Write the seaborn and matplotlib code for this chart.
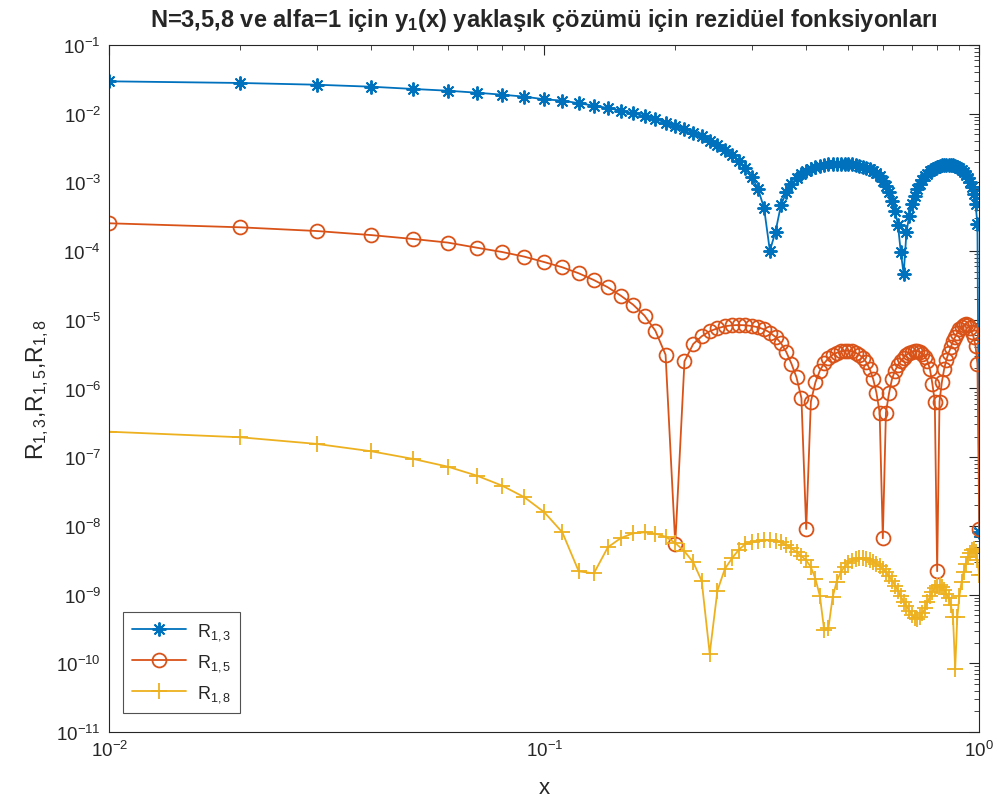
import numpy as np
import pandas as pd
import matplotlib
matplotlib.use("Agg")
import matplotlib.pyplot as plt
import matplotlib.ticker as mticker
import seaborn as sns

x = [0.01, 0.02, 0.03, 0.04, 0.05, 0.06, 0.07, 0.08, 0.09, 0.10,
     0.11, 0.12, 0.13, 0.14, 0.15, 0.16, 0.17, 0.18, 0.19, 0.20,
     0.21, 0.22, 0.23, 0.24, 0.25, 0.26, 0.27, 0.28, 0.29, 0.30,
     0.31, 0.32, 0.33, 0.34, 0.35, 0.36, 0.37, 0.38, 0.39, 0.40,
     0.41, 0.42, 0.43, 0.44, 0.45, 0.46, 0.47, 0.48, 0.49, 0.50,
     0.51, 0.52, 0.53, 0.54, 0.55, 0.56, 0.57, 0.58, 0.59, 0.60,
     0.61, 0.62, 0.63, 0.64, 0.65, 0.66, 0.67, 0.68, 0.69, 0.70,
     0.71, 0.72, 0.73, 0.74, 0.75, 0.76, 0.77, 0.78, 0.79, 0.80,
     0.81, 0.82, 0.83, 0.84, 0.85, 0.86, 0.87, 0.88, 0.89, 0.90,
     0.91, 0.92, 0.93, 0.94, 0.95, 0.96, 0.97, 0.98, 0.99, 1.00]

R13 = [2.96e-2, 2.80e-2, 2.64e-2, 2.47e-2, 2.29e-2, 2.16e-2, 2.02e-2, 1.89e-2, 1.77e-2, 1.62e-2,
       1.55e-2, 1.42e-2, 1.31e-2, 1.21e-2, 1.11e-2, 1.01e-2, 9.27e-3, 8.38e-3, 7.40e-3, 6.68e-3,
       5.98e-3, 5.28e-3, 4.69e-3, 4.05e-3, 3.50e-3, 2.99e-3, 2.48e-3, 2.03e-3, 1.60e-3, 1.21e-3,
       8.02e-4, 4.24e-4, 1.01e-4, 1.92e-4, 4.69e-4, 7.16e-4, 9.48e-4, 1.15e-3, 1.32e-3, 1.45e-3,
       1.57e-3, 1.66e-3, 1.73e-3, 1.79e-3, 1.83e-3, 1.85e-3, 1.87e-3, 1.87e-3, 1.87e-3, 1.85e-3,
       1.83e-3, 1.79e-3, 1.75e-3, 1.69e-3, 1.64e-3, 1.57e-3, 1.48e-3, 1.37e-3, 1.22e-3, 1.06e-3,
       8.95e-4, 7.16e-4, 5.42e-4, 3.88e-4, 2.40e-4, 9.59e-5, 4.65e-5, 1.87e-4, 3.28e-4, 4.85e-4,
       6.41e-4, 8.02e-4, 9.48e-4, 1.10e-3, 1.22e-3, 1.34e-3, 1.45e-3, 1.53e-3, 1.62e-3, 1.67e-3,
       1.73e-3, 1.77e-3, 1.79e-3, 1.81e-3, 1.81e-3, 1.79e-3, 1.77e-3, 1.73e-3, 1.67e-3, 1.60e-3,
       1.52e-3, 1.42e-3, 1.29e-3, 1.16e-3, 1.00e-3, 8.47e-4, 6.78e-4, 4.85e-4, 2.48e-4, 8.1e-9]

R15 = [2.54e-4, 2.22e-4, 1.96e-4, 1.71e-4, 1.50e-4, 1.33e-4, 1.12e-4, 9.70e-5, 8.30e-5, 6.92e-5,
       5.81e-5, 4.75e-5, 3.79e-5, 2.97e-5, 2.24e-5, 1.66e-5, 1.15e-5, 6.93e-6, 3.10e-6, 5.46e-9,
       2.49e-6, 4.45e-6, 5.75e-6, 6.81e-6, 7.52e-6, 8.04e-6, 8.32e-6, 8.39e-6, 8.32e-6, 8.13e-6,
       7.78e-6, 7.26e-6, 6.53e-6, 5.62e-6, 4.57e-6, 3.39e-6, 2.29e-6, 1.45e-6, 7.24e-7, 9.02e-9,
       6.46e-7, 1.23e-6, 1.82e-6, 2.34e-6, 2.75e-6, 3.09e-6, 3.31e-6, 3.47e-6, 3.55e-6, 3.55e-6,
       3.47e-6, 3.31e-6, 3.09e-6, 2.82e-6, 2.40e-6, 1.91e-6, 1.38e-6, 8.71e-7, 4.47e-7, 6.61e-9,
       4.47e-7, 8.51e-7, 1.38e-6, 1.82e-6, 2.19e-6, 2.51e-6, 2.82e-6, 3.09e-6, 3.31e-6, 3.43e-6,
       3.51e-6, 3.51e-6, 3.39e-6, 3.16e-6, 2.88e-6, 2.51e-6, 1.91e-6, 1.17e-6, 6.46e-7, 2.19e-9,
       6.46e-7, 1.23e-6, 1.91e-6, 2.63e-6, 3.31e-6, 3.98e-6, 4.90e-6, 5.62e-6, 6.46e-6, 7.24e-6,
       7.76e-6, 8.32e-6, 8.59e-6, 8.32e-6, 7.59e-6, 6.61e-6, 5.62e-6, 4.17e-6, 2.29e-6, 9.12e-9]

R18 = [2.35e-7, 1.95e-7, 1.56e-7, 1.22e-7, 9.42e-8, 7.28e-8, 5.38e-8, 3.85e-8, 2.61e-8, 1.58e-8,
       8.07e-9, 2.18e-9, 2.04e-9, 4.89e-9, 6.67e-9, 7.80e-9, 8.07e-9, 7.71e-9, 6.97e-9, 5.64e-9,
       4.27e-9, 2.95e-9, 1.59e-9, 1.38e-10, 1.14e-9, 2.36e-9, 3.37e-9, 4.51e-9, 5.45e-9, 5.77e-9,
       6.03e-9, 6.17e-9, 6.17e-9, 6.03e-9, 5.77e-9, 5.27e-9, 4.72e-9, 4.17e-9, 3.63e-9, 3.16e-9,
       2.51e-9, 1.70e-9, 9.55e-10, 3.02e-10, 3.31e-10, 9.12e-10, 1.55e-9, 2.11e-9, 2.55e-9, 2.88e-9,
       3.11e-9, 3.30e-9, 3.37e-9, 3.37e-9, 3.30e-9, 3.19e-9, 3.02e-9, 2.79e-9, 2.58e-9, 2.36e-9,
       2.11e-9, 1.85e-9, 1.59e-9, 1.35e-9, 1.14e-9, 9.44e-10, 7.89e-10, 6.76e-10, 5.83e-10, 5.09e-10,
       4.56e-10, 4.42e-10, 4.67e-10, 5.35e-10, 6.31e-10, 7.73e-10, 9.44e-10, 1.10e-9, 1.25e-9, 1.35e-9,
       1.38e-9, 1.30e-9, 1.18e-9, 1.02e-9, 8.91e-10, 7.08e-10, 4.68e-10, 8.32e-11, 4.68e-10, 9.55e-10,
       1.51e-9, 2.14e-9, 2.82e-9, 3.47e-9, 4.07e-9, 4.47e-9, 4.57e-9, 4.17e-9, 3.16e-9, 1.91e-9]

labels = ["R$_{1,3}$", "R$_{1,5}$", "R$_{1,8}$"]
colors = ["#0072BD", "#D95319", "#EDB120"]
title = "N=3,5,8 ve alfa=1 için y$_\\mathbf{1}$(x) yaklaşık çözümü için rezidüel fonksiyonları"
xlabel = "x"
ylabel = "R$_{1,3}$,R$_{1,5}$,R$_{1,8}$"

sns.set_style("white")
plt.rcParams["font.family"] = ["Liberation Sans", "DejaVu Sans"]
plt.rcParams["mathtext.fontset"] = "custom"
plt.rcParams["mathtext.rm"] = "Liberation Sans"
plt.rcParams["mathtext.it"] = "Liberation Sans:italic"
plt.rcParams["mathtext.bf"] = "Liberation Sans:bold"
plt.rcParams["mathtext.default"] = "regular"

fig = plt.figure(figsize=(9.99, 8.04), dpi=100)
ax = fig.add_axes([0.1094, 0.0883, 0.8709, 0.8545])

df = pd.DataFrame({"x": x, "R13": R13, "R15": R15, "R18": R18})
styles = [
    dict(marker=(8, 2, 0), markersize=10, markeredgecolor=colors[0], markeredgewidth=1.4),
    dict(marker="o", markersize=10, markerfacecolor="none", markeredgecolor=colors[1], markeredgewidth=1.3),
    dict(marker="+", markersize=11, markeredgecolor=colors[2], markeredgewidth=1.3),
]
for col, lab, c, st in zip(["R13", "R15", "R18"], labels, colors, styles):
    sns.lineplot(data=df, x="x", y=col, ax=ax, color=c, label=lab, linewidth=1.3,
                 estimator=None, sort=False, **st)

ax.set_xscale("log")
ax.set_yscale("log")
ax.set_xlim(1e-2, 1)
ax.set_ylim(1e-11, 1e-1)
ax.yaxis.set_major_locator(mticker.LogLocator(base=10, numticks=20))
ax.yaxis.set_minor_locator(mticker.LogLocator(base=10, subs=np.arange(2, 10), numticks=20))
ax.xaxis.set_minor_locator(mticker.LogLocator(base=10, subs=np.arange(2, 10), numticks=20))
ax.yaxis.set_minor_formatter(mticker.NullFormatter())
ax.xaxis.set_minor_formatter(mticker.NullFormatter())

ax.tick_params(which="both", direction="in", top=True, right=True, colors="#262626",
               labelsize=13.5, labelcolor="#262626")
ax.tick_params(which="major", length=7, width=0.8, pad=6)
ax.tick_params(which="minor", length=3.5, width=0.6)
for s in ax.spines.values():
    s.set_color("#262626")
    s.set_linewidth(0.8)

ax.set_title(title, fontsize=17, fontweight="bold", pad=14)
ax.set_xlabel(xlabel, fontsize=16, color="#262626", labelpad=12)
ax.set_ylabel(ylabel, fontsize=16.5, color="#262626", labelpad=4)

leg = ax.legend(loc="lower left", bbox_to_anchor=(0.0157, 0.0277), borderaxespad=0,
                fontsize=13, frameon=True, fancybox=False, handlelength=3.0,
                labelspacing=0.55, borderpad=0.5, handletextpad=0.6)
leg.get_frame().set_edgecolor("#262626")
leg.get_frame().set_linewidth(0.8)

fig.savefig("out.png", dpi=100, facecolor="white")
